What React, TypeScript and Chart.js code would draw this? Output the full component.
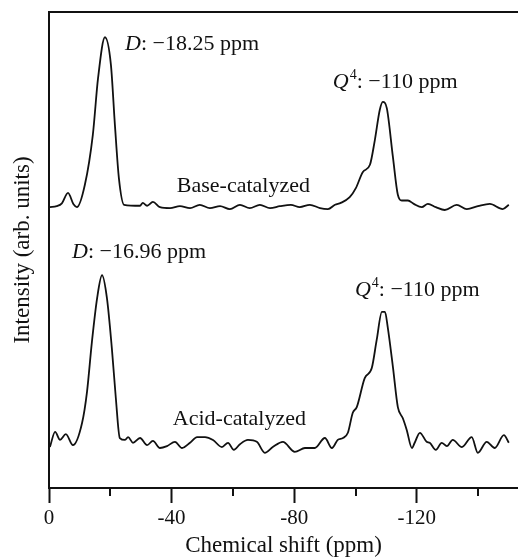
import React, { useEffect, useRef } from 'react';
import { Chart, registerables } from 'chart.js';

Chart.register(...registerables);

// Base-catalyzed spectrum (chemical shift in ppm, intensity in arbitrary units)
const baseShift = [
  -0.3, -2.5, -4.2, -6.2, -8.0, -9.1, -11.7, -14.3, -16.0, -18.25, -20.2, -21.5, -22.8, -24.5, -29.7, -30.6, -32.0, -33.9, -36.2,
  -39.5, -42.7, -46.0, -49.2, -52.5, -55.8, -59.0, -62.3, -65.5, -68.8, -72.1, -75.3, -78.9, -81.8, -85.1, -88.4,
  -91.0, -93.3, -95.2, -98.1, -100.1, -102.4, -104.7, -106.3, -107.9, -108.9, -110.2, -112.2, -113.8, -115.1,
  -117.1, -119.0, -121.6, -123.6, -126.2, -129.1, -133.0, -136.3, -139.9, -143.8, -148.0, -150.0,
];
const baseIntensity = [
  59.0, 59.2, 59.8, 62.0, 59.6, 59.0, 63.7, 74.2, 86.1, 94.7, 88.9, 76.3, 65.1, 59.5, 59.3, 59.9, 59.3, 60.1, 59.0,
  58.8, 59.2, 58.8, 59.5, 58.8, 59.2, 58.6, 59.5, 58.8, 59.5, 58.8, 59.2, 59.5, 59.0, 59.5, 58.8,
  58.6, 59.5, 59.9, 61.1, 63.0, 66.4, 67.9, 73.1, 79.4, 81.1, 79.8, 69.5, 61.6, 60.4,
  60.4, 59.7, 59.0, 59.7, 59.0, 58.4, 59.5, 58.6, 59.2, 59.7, 58.6, 59.5,
];

// Acid-catalyzed spectrum
const acidShift = [
  -0.3, -2.0, -3.6, -5.5, -7.8, -10.8, -12.4, -14.0, -15.7, -17.3, -18.9, -20.5, -21.8, -23.1, -24.8, -25.8,
  -27.4, -29.7, -32.0, -33.9, -36.2, -38.5, -41.1, -43.4, -46.0, -48.3, -50.9, -53.5, -56.4, -58.4, -60.3, -62.3,
  -64.9, -67.8, -70.4, -73.0, -76.3, -80.2, -83.5, -86.7, -90.0, -92.3, -94.2, -95.9, -97.5, -99.1, -100.4,
  -103.0, -105.3, -106.9, -108.6, -109.6, -110.5, -112.2, -113.8, -115.4, -116.7, -118.4, -119.3, -121.0,
  -123.2, -124.2, -126.2, -128.1, -129.8, -131.7, -134.7, -137.9, -139.9, -142.8, -145.4, -148.4, -150.0,
];
const acidIntensity = [
  8.6, 11.8, 10.1, 11.3, 9.0, 13.7, 20.2, 30.7, 39.9, 44.7, 39.9, 29.4, 18.9, 10.5, 10.1, 10.7,
  9.5, 10.5, 9.0, 9.9, 8.4, 8.8, 9.7, 8.4, 9.5, 10.7, 10.7, 10.1, 8.6, 9.5, 8.0, 9.2,
  10.1, 9.7, 7.4, 8.6, 9.7, 7.6, 8.4, 8.4, 10.5, 8.4, 10.1, 10.5, 11.6, 15.8, 17.0,
  23.1, 25.2, 31.1, 37.0, 37.0, 33.8, 25.4, 17.0, 14.7, 12.2, 8.4, 9.5, 11.6,
  9.7, 9.5, 8.0, 9.5, 8.8, 10.1, 8.6, 10.7, 7.4, 9.7, 8.4, 11.1, 9.5,
];

const xTickValues = [0, -40, -80, -120];
const xTickLabels = ['0', '-40', '-80', '-120'];
const xMinorTicks = [-20, -60, -100, -140];
const xTitle = 'Chemical shift (ppm)';
const yTitle = 'Intensity (arb. units)';

// Text labels placed in data coordinates (left edge, baseline)
const labelItalic = ['D', 'Q', '', 'D', 'Q', ''];
const labelSup = ['', '4', '', '', '4', ''];
const labelRest = [': \u221218.25 ppm', ': \u2212110 ppm', 'Base-catalyzed', ': \u221216.96 ppm', ': \u2212110 ppm', 'Acid-catalyzed'];
const labelX = [-24.8, -92.6, -41.7, -7.5, -99.8, -40.4];
const labelY = [92.0, 84.0, 62.2, 48.3, 40.3, 13.2];

const FONT = '"Liberation Serif", "DejaVu Serif", "Times New Roman", serif';
const INK = '#111111';

const framePlugin = {
  id: 'frameAndLabels',
  afterDraw(chart: any) {
    const { ctx, chartArea } = chart;
    const xs = chart.scales.x;
    const ys = chart.scales.y;
    ctx.save();
    ctx.strokeStyle = INK;
    ctx.lineWidth = 2;
    // top frame line
    ctx.beginPath();
    ctx.moveTo(chartArea.left - 1, chartArea.top);
    ctx.lineTo(chartArea.right, chartArea.top);
    ctx.stroke();
    // minor ticks
    for (const v of xMinorTicks) {
      const px = Math.round(xs.getPixelForValue(v));
      ctx.beginPath();
      ctx.moveTo(px, chartArea.bottom);
      ctx.lineTo(px, chartArea.bottom + 8);
      ctx.stroke();
    }
    // annotations
    ctx.fillStyle = INK;
    ctx.textBaseline = 'alphabetic';
    ctx.textAlign = 'left';
    for (let i = 0; i < labelRest.length; i++) {
      let px = xs.getPixelForValue(labelX[i]);
      const py = ys.getPixelForValue(labelY[i]);
      if (labelItalic[i]) {
        ctx.font = `italic 22px ${FONT}`;
        ctx.fillText(labelItalic[i], px, py);
        px += ctx.measureText(labelItalic[i]).width;
      }
      if (labelSup[i]) {
        ctx.font = `14px ${FONT}`;
        ctx.fillText(labelSup[i], px + 1, py - 9);
        px += ctx.measureText(labelSup[i]).width + 1;
      }
      ctx.font = `22px ${FONT}`;
      ctx.fillText(labelRest[i], px, py);
    }
    ctx.restore();
  },
};

export default function App() {
  const canvasRef = useRef<HTMLCanvasElement | null>(null);

  useEffect(() => {
    document.body.style.margin = '0';
    const canvas = canvasRef.current;
    if (!canvas) return;
    const chart = new Chart(canvas, {
      type: 'line',
      data: {
        datasets: [
          {
            label: 'Base-catalyzed',
            data: baseShift.map((x, i) => ({ x, y: baseIntensity[i] })),
            borderColor: INK,
            borderWidth: 1.8,
            pointRadius: 0,
            cubicInterpolationMode: 'monotone',
            fill: false,
          },
          {
            label: 'Acid-catalyzed',
            data: acidShift.map((x, i) => ({ x, y: acidIntensity[i] })),
            borderColor: INK,
            borderWidth: 1.8,
            pointRadius: 0,
            cubicInterpolationMode: 'monotone',
            fill: false,
          },
        ],
      },
      options: {
        animation: false,
        responsive: false,
        devicePixelRatio: 1,
        layout: { padding: { top: 12, right: 0, left: 0, bottom: 0 } },
        plugins: {
          legend: { display: false },
          tooltip: { enabled: false },
        },
        scales: {
          x: {
            type: 'linear',
            min: -153,
            max: 0,
            reverse: true,
            afterBuildTicks: (axis: any) => {
              axis.ticks = xTickValues.map((v) => ({ value: v }));
            },
            afterFit: (axis: any) => {
              axis.height = 69;
            },
            ticks: {
              color: INK,
              font: { family: FONT, size: 21 },
              padding: 3,
              maxRotation: 0,
              callback: (value: any) => {
                const idx = xTickValues.indexOf(Number(value));
                return idx >= 0 ? xTickLabels[idx] : '';
              },
            },
            grid: {
              display: true,
              drawOnChartArea: false,
              drawTicks: true,
              tickLength: 15,
              tickWidth: 2,
              tickColor: INK,
            },
            border: { display: true, color: INK, width: 2 },
            title: {
              display: true,
              text: xTitle,
              color: INK,
              font: { family: FONT, size: 23, lineHeight: 1 },
              padding: { top: 0, bottom: 0 },
            },
          },
          y: {
            type: 'linear',
            min: 0,
            max: 100,
            afterFit: (axis: any) => {
              axis.width = 49;
            },
            ticks: { display: false },
            grid: { display: false, drawTicks: false },
            border: { display: true, color: INK, width: 2 },
            title: {
              display: true,
              text: yTitle,
              color: INK,
              font: { family: FONT, size: 23, lineHeight: 1 },
              padding: { top: 11, bottom: 0 },
            },
          },
        },
      },
      plugins: [framePlugin],
    });
    return () => chart.destroy();
  }, []);

  return (
    <div style={{ position: 'absolute', left: 0, top: 0, width: 518, height: 557, background: '#fff' }}>
      <canvas ref={canvasRef} width={518} height={557} />
    </div>
  );
}
